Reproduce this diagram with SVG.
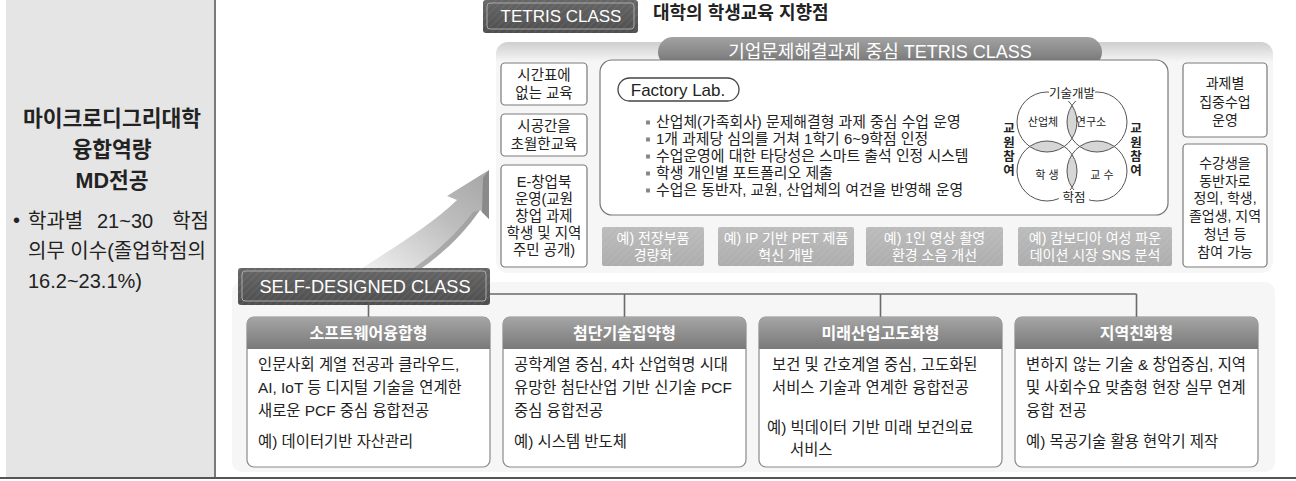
<svg xmlns="http://www.w3.org/2000/svg" width="1296" height="481" viewBox="0 0 1296 481">
<defs>
<style>
text{font-family:'Liberation Sans','Noto Sans CJK KR',sans-serif;fill:#222}
.c{text-anchor:middle}
.w{fill:#fff}
.b{font-weight:bold}
.sbox{fill:#fff;stroke:#7a7a7a;stroke-width:1.2}
.ex{fill:url(#exg)}
.cat{fill:#fff;stroke:#8a8a8a;stroke-width:1.2}
.conn{stroke:#6a6a6a;stroke-width:1.6;fill:none}
.vc{fill:none;stroke:#555;stroke-width:1}
.lens{fill:#d6d6d6}
.s14{font-size:14.5px}
.r14{font-size:14px}
.fl{font-size:14.9px}
.body{font-size:15.4px}
</style>
<pattern id="hatch" width="5" height="5" patternUnits="userSpaceOnUse" patternTransform="rotate(45)">
<rect width="5" height="5" fill="none"/>
<line x1="0" y1="0" x2="0" y2="5" stroke="#ffffff" stroke-opacity="0.10" stroke-width="1.5"/>
</pattern>
<linearGradient id="darkg" x1="0" y1="0" x2="0" y2="1">
<stop offset="0" stop-color="#666"/>
<stop offset="1" stop-color="#4e4e4e"/>
</linearGradient>
<linearGradient id="bang" x1="0" y1="0" x2="0" y2="1">
<stop offset="0" stop-color="#a2a2a2"/>
<stop offset="0.5" stop-color="#8a8a8a"/>
<stop offset="1" stop-color="#6e6e6e"/>
</linearGradient>
<linearGradient id="hdrg" x1="0" y1="0" x2="0" y2="1">
<stop offset="0" stop-color="#a6a6a6"/>
<stop offset="0.4" stop-color="#939393"/>
<stop offset="1" stop-color="#7a7a7a"/>
</linearGradient>
<linearGradient id="exg" x1="0" y1="0" x2="0" y2="1">
<stop offset="0" stop-color="#bcbcbc"/>
<stop offset="1" stop-color="#adadad"/>
</linearGradient>
<linearGradient id="panelg" x1="0" y1="0" x2="0" y2="1">
<stop offset="0" stop-color="#cfcfcf"/>
<stop offset="1" stop-color="#f6f6f6"/>
</linearGradient>
<linearGradient id="arrowg" x1="0" y1="1" x2="1" y2="0">
<stop offset="0" stop-color="#f4f4f4"/>
<stop offset="0.6" stop-color="#bdbdbd"/>
<stop offset="1" stop-color="#a5a5a5"/>
</linearGradient>
<clipPath id="cTL"><circle cx="1047" cy="122" r="30"/></clipPath>
<clipPath id="cTR"><circle cx="1097" cy="122" r="30"/></clipPath>
<clipPath id="cBL"><circle cx="1047" cy="171" r="30"/></clipPath>
<clipPath id="cBR"><circle cx="1097" cy="171" r="30"/></clipPath>
</defs>

<rect width="1296" height="481" fill="#fff"/>

<!-- left panel -->
<g id="left-panel">
<rect x="6" y="0" width="209" height="478" fill="#e5e5e5"/>
<line x1="215" y1="0" x2="215" y2="478" stroke="#7a7a7a" stroke-width="2"/>
<text x="112" y="126" class="c b" font-size="21.5">마이크로디그리대학</text>
<text x="112" y="157" class="c b" font-size="21.5">융합역량</text>
<text x="112" y="188" class="c b" font-size="21.5">MD전공</text>
<text x="13" y="227" font-size="20">•</text>
<text x="28" y="228" font-size="20">학과별</text>
<text x="97" y="228" font-size="20">21~30</text>
<text x="209" y="228" font-size="20" text-anchor="end">학점</text>
<text x="28" y="258" font-size="20">의무 이수(졸업학점의</text>
<text x="28" y="288" font-size="20">16.2~23.1%)</text>
</g>
<line x1="0" y1="478" x2="1296" y2="478" stroke="#555" stroke-width="2"/>

<!-- top title -->
<g id="tetris-title">
<rect x="483" y="0" width="155" height="33" rx="3" fill="url(#darkg)"/>
<rect x="483" y="0" width="155" height="33" rx="3" fill="url(#hatch)"/>
<rect x="487" y="3" width="147" height="26" rx="3" fill="none" stroke="#aaa" stroke-width="1"/>
<text x="561" y="22" class="c w" font-size="17">TETRIS CLASS</text>
<text x="653" y="19" class="b" font-size="18">대학의 학생교육 지향점</text>
</g>

<!-- top panel -->
<g id="top-panel">
<rect x="496" y="42" width="777" height="231" rx="12" fill="#f6f6f6"/>
<path d="M496 62 V54 A12 12 0 0 1 508 42 H1261 A12 12 0 0 1 1273 54 V62 Z" fill="url(#panelg)"/>
</g>

<g id="banner">
<rect x="658" y="37" width="444" height="30" rx="15" fill="url(#bang)"/>
<text x="880" y="58" class="c w" font-size="18">기업문제해결과제 중심 TETRIS CLASS</text>
</g>

<!-- left small boxes -->
<g id="box-timetable">
<rect x="501" y="63" width="86" height="42" rx="4" class="sbox"/>
<text x="544" y="80" class="c s14">시간표에</text>
<text x="544" y="97.5" class="c s14">없는 교육</text>
</g>
<g id="box-spacetime">
<rect x="501" y="114" width="86" height="42" rx="4" class="sbox"/>
<text x="544" y="131" class="c s14">시공간을</text>
<text x="544" y="148.5" class="c s14">초월한교육</text>
</g>
<g id="box-ebook">
<rect x="501" y="165" width="86" height="102" rx="4" class="sbox"/>
<text x="544" y="187" class="c s14">E-창업북</text>
<text x="544" y="204" class="c s14">운영(교원</text>
<text x="544" y="221" class="c s14">창업 과제</text>
<text x="544" y="238" class="c s14">학생 및 지역</text>
<text x="544" y="255" class="c s14">주민 공개)</text>
</g>

<!-- factory lab -->
<g id="factory-lab">
<rect x="600" y="60" width="568" height="155" rx="12" fill="#fff" stroke="#777" stroke-width="1.2"/>
<rect x="618" y="78" width="121" height="23" rx="11.5" fill="#fff" stroke="#444" stroke-width="1.3"/>
<text x="678" y="96" class="c" font-size="17">Factory Lab.</text>
<g fill="#888">
<rect x="646" y="120.5" width="4" height="4"/>
<rect x="646" y="137.5" width="4" height="4"/>
<rect x="646" y="154.5" width="4" height="4"/>
<rect x="646" y="171.5" width="4" height="4"/>
<rect x="646" y="188.5" width="4" height="4"/>
</g>
<text x="656" y="127" class="fl">산업체(가족회사) 문제해결형 과제 중심 수업 운영</text>
<text x="656" y="144" class="fl">1개 과제당 심의를 거쳐 1학기 6~9학점 인정</text>
<text x="656" y="161" class="fl">수업운영에 대한 타당성은 스마트 출석 인정 시스템</text>
<text x="656" y="178" class="fl">학생 개인별 포트폴리오 제출</text>
<text x="656" y="195" class="fl">수업은 동반자, 교원, 산업체의 여건을 반영해 운영</text>
</g>

<!-- venn -->
<g id="venn">
<circle cx="1097" cy="122" r="30" class="lens" clip-path="url(#cTL)"/>
<circle cx="1047" cy="171" r="30" class="lens" clip-path="url(#cTL)"/>
<circle cx="1097" cy="171" r="30" class="lens" clip-path="url(#cTR)"/>
<circle cx="1097" cy="171" r="30" class="lens" clip-path="url(#cBL)"/>
<circle cx="1047" cy="122" r="30" class="vc"/>
<circle cx="1097" cy="122" r="30" class="vc"/>
<circle cx="1047" cy="171" r="30" class="vc"/>
<circle cx="1097" cy="171" r="30" class="vc"/>
<rect x="1049" y="86" width="46" height="15" fill="#fff"/>
<text x="1072" y="98" class="c" font-size="12.5">기술개발</text>
<rect x="1059" y="190" width="30" height="15" fill="#fff"/>
<text x="1074" y="202" class="c" font-size="12.5">학점</text>
<text x="1043" y="126" class="c" font-size="11">산업체</text>
<text x="1091" y="126" class="c" font-size="11">연구소</text>
<text x="1047" y="179" class="c" font-size="11">학 생</text>
<text x="1102" y="179" class="c" font-size="11">교 수</text>
<g font-size="12.5">
<text x="1009" y="133" class="c b">교</text>
<text x="1009" y="147" class="c b">원</text>
<text x="1009" y="161" class="c b">참</text>
<text x="1009" y="175" class="c b">여</text>
<text x="1136" y="133" class="c b">교</text>
<text x="1136" y="147" class="c b">원</text>
<text x="1136" y="161" class="c b">참</text>
<text x="1136" y="175" class="c b">여</text>
</g>
</g>

<!-- right boxes -->
<g id="box-intensive">
<rect x="1183" y="63" width="84" height="74" rx="4" class="sbox"/>
<text x="1225" y="88" class="c r14">과제별</text>
<text x="1225" y="106.5" class="c r14">집중수업</text>
<text x="1225" y="125" class="c r14">운영</text>
</g>
<g id="box-partner">
<rect x="1183" y="144" width="84" height="123" rx="4" class="sbox"/>
<text x="1225" y="168" class="c r14">수강생을</text>
<text x="1225" y="185.5" class="c r14">동반자로</text>
<text x="1225" y="203" class="c r14">정의, 학생,</text>
<text x="1225" y="221" class="c r14">졸업생, 지역</text>
<text x="1225" y="239" class="c r14">청년 등</text>
<text x="1225" y="257" class="c r14">참여 가능</text>
</g>

<!-- example boxes -->
<g id="ex-1">
<rect x="602" y="227" width="102" height="39" rx="2" class="ex"/>
<rect x="602" y="227" width="102" height="39" rx="2" fill="url(#hatch)"/>
<text x="653" y="243" class="c w r14">예) 전장부품</text>
<text x="653" y="260" class="c w r14">경량화</text>
</g>
<g id="ex-2">
<rect x="718" y="227" width="136" height="39" rx="2" class="ex"/>
<rect x="718" y="227" width="136" height="39" rx="2" fill="url(#hatch)"/>
<text x="786" y="243" class="c w r14">예) IP 기반 PET 제품</text>
<text x="786" y="260" class="c w r14">혁신 개발</text>
</g>
<g id="ex-3">
<rect x="866" y="227" width="137" height="39" rx="2" class="ex"/>
<rect x="866" y="227" width="137" height="39" rx="2" fill="url(#hatch)"/>
<text x="934.5" y="243" class="c w r14">예) 1인 영상 촬영</text>
<text x="934.5" y="260" class="c w r14">환경 소음 개선</text>
</g>
<g id="ex-4">
<rect x="1018" y="227" width="154" height="39" rx="2" class="ex"/>
<rect x="1018" y="227" width="154" height="39" rx="2" fill="url(#hatch)"/>
<text x="1095" y="243" class="c w r14">예) 캄보디아 여성 파운</text>
<text x="1095" y="260" class="c w r14">데이션 시장 SNS 분석</text>
</g>

<!-- bottom panel -->
<g id="bottom-panel">
<rect x="232" y="282" width="1043" height="190" rx="10" fill="#f6f6f6"/>
</g>

<!-- big arrow -->
<g id="arrow">
<path d="M356 272 C393 248 430 226 457 200 L447 196 L489 170 L489 219 L480 210 C462 236 440 256 416 272 Z" fill="url(#arrowg)"/>
<path d="M480 210 C462 236 440 256 416 272 L408 272 C432 256 455 236 473 212 Z" fill="#9a9a9a" opacity="0.7"/>
<path d="M489 170 L489 219 L482 212 L483 178 Z" fill="#8a8a8a"/>
</g>

<!-- connectors -->
<g id="connectors">
<path class="conn" d="M490 294 H1136.5 M624.5 294 V317 M880.5 294 V317 M1136.5 294 V317 M368.5 305 V317"/>
</g>

<g id="self-designed">
<rect x="238" y="268" width="252" height="37" rx="3" fill="url(#darkg)"/>
<rect x="238" y="268" width="252" height="37" rx="3" fill="url(#hatch)"/>
<rect x="242" y="271" width="244" height="30" rx="3" fill="none" stroke="#aaa" stroke-width="1"/>
<text x="365" y="293" class="c w" font-size="18.2">SELF-DESIGNED CLASS</text>
</g>

<!-- category boxes -->
<g id="cat-software">
<rect x="247" y="317" width="243" height="150" rx="7" class="cat"/>
<path d="M247 349 V324 A7 7 0 0 1 254 317 H483 A7 7 0 0 1 490 324 V349 Z" fill="url(#hdrg)"/>
<text x="368.5" y="339" class="c w b" font-size="16">소프트웨어융합형</text>
<text x="258" y="370" class="body">인문사회 계열 전공과 클라우드,</text>
<text x="258" y="393" class="body">AI, IoT 등 디지털 기술을 연계한</text>
<text x="258" y="416" class="body">새로운 PCF 중심 융합전공</text>
<text x="258" y="447" class="body">예) 데이터기반 자산관리</text>
</g>
<g id="cat-hightech">
<rect x="503" y="317" width="243" height="150" rx="7" class="cat"/>
<path d="M503 349 V324 A7 7 0 0 1 510 317 H739 A7 7 0 0 1 746 324 V349 Z" fill="url(#hdrg)"/>
<text x="624.5" y="339" class="c w b" font-size="16">첨단기술집약형</text>
<text x="514" y="370" class="body">공학계열 중심, 4차 산업혁명 시대</text>
<text x="514" y="393" class="body">유망한 첨단산업 기반 신기술 PCF</text>
<text x="514" y="416" class="body">중심 융합전공</text>
<text x="514" y="447" class="body">예) 시스템 반도체</text>
</g>
<g id="cat-future">
<rect x="759" y="317" width="243" height="150" rx="7" class="cat"/>
<path d="M759 349 V324 A7 7 0 0 1 766 317 H995 A7 7 0 0 1 1002 324 V349 Z" fill="url(#hdrg)"/>
<text x="880.5" y="339" class="c w b" font-size="16">미래산업고도화형</text>
<text x="772" y="370" class="body">보건 및 간호계열 중심, 고도화된</text>
<text x="772" y="393" class="body">서비스 기술과 연계한 융합전공</text>
<text x="767" y="433" class="body">예) 빅데이터 기반 미래 보건의료</text>
<text x="790" y="455" class="body">서비스</text>
</g>
<g id="cat-regional">
<rect x="1015" y="317" width="243" height="150" rx="7" class="cat"/>
<path d="M1015 349 V324 A7 7 0 0 1 1022 317 H1251 A7 7 0 0 1 1258 324 V349 Z" fill="url(#hdrg)"/>
<text x="1136.5" y="339" class="c w b" font-size="16">지역친화형</text>
<text x="1026" y="370" class="body">변하지 않는 기술 &amp; 창업중심, 지역</text>
<text x="1026" y="393" class="body">및 사회수요 맞춤형 현장 실무 연계</text>
<text x="1026" y="416" class="body">융합 전공</text>
<text x="1026" y="447" class="body">예) 목공기술 활용 현악기 제작</text>
</g>
</svg>
